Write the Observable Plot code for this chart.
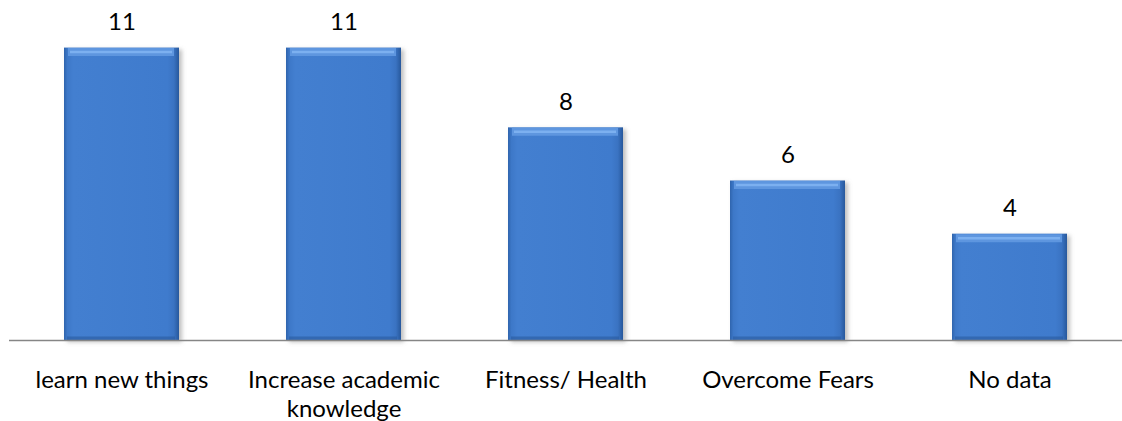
<!DOCTYPE html>
<html>
<head>
<meta charset="utf-8">
<script src="https://cdn.jsdelivr.net/npm/d3@7"></script>
<script src="https://cdn.jsdelivr.net/npm/@observablehq/plot@0.6"></script>
<style>
  html, body { margin: 0; padding: 0; background: #ffffff; }
  #chart svg { display: block; }
</style>
</head>
<body>
<div id="chart"></div>
<script>
// Reasons given for taking part
const categories = ["learn new things", "Increase academic knowledge", "Fitness/ Health", "Overcome Fears", "No data"];
const counts = [11, 11, 8, 6, 4];
const tickLabels = ["learn new things", "Increase academic\nknowledge", "Fitness/ Health", "Overcome Fears", "No data"];

const data = categories.map((c, i) => ({category: c, count: counts[i]}));
const labelOf = new Map(categories.map((c, i) => [c, tickLabels[i]]));

const font = "Lato, 'Open Sans', sans-serif";
const fontSize = 24;

// Gradient and blur definitions for the bevelled bar look
const defs = () => {
  const g = d3.create("svg:defs");
  const body = g.append("linearGradient").attr("id", "barBody").attr("x1", 0).attr("x2", 1).attr("y1", 0).attr("y2", 0);
  [[0, "#2f64ad"], [0.03, "#3d78c8"], [0.08, "#437fd0"], [0.9, "#3f7bcd"], [0.955, "#3a73c2"], [1, "#27589c"]]
    .forEach(([o, c]) => body.append("stop").attr("offset", o).attr("stop-color", c));
  const f = g.append("filter").attr("id", "barShadow").attr("x", "-10%").attr("y", "-10%").attr("width", "130%").attr("height", "130%");
  f.append("feGaussianBlur").attr("stdDeviation", 2);
  return g.node();
};

const chart = Plot.plot({
  width: 1122,
  height: 421,
  marginLeft: 9,
  marginRight: 0,
  marginTop: 21,
  marginBottom: 81,
  style: {fontFamily: font, fontSize: `${fontSize}px`, color: "#000"},
  x: {domain: categories, paddingInner: 0.484, paddingOuter: 0.242},
  y: {domain: [0, 12], axis: null},
  marks: [
    defs,
    // soft shadow to the lower right
    Plot.barY(data, {x: "category", y: "count", fill: "#8a8a8a", fillOpacity: 0.55, dx: 3, dy: 2, render: (i, s, v, d, c, next) => {
      const el = next(i, s, v, d, c);
      el.setAttribute("filter", "url(#barShadow)");
      return el;
    }}),
    Plot.barY(data, {x: "category", y: "count", fill: "url(#barBody)"}),
    // darker base strip
    Plot.tickY(data, {x: "category", y: 0, dy: -2, stroke: "#2a5a9e", strokeWidth: 4, strokeOpacity: 0.6, insetLeft: 3, insetRight: 4}),
    // lit top bevel
    Plot.tickY(data, {x: "category", y: "count", dy: 4, stroke: "#5e96df", strokeWidth: 8, insetLeft: 4, insetRight: 5}),
    Plot.tickY(data, {x: "category", y: "count", dy: 4, stroke: "#7cb0f0", strokeWidth: 2.5, insetLeft: 6, insetRight: 7}),
    Plot.ruleY([0], {stroke: "#868686", strokeWidth: 1.6}),
    Plot.text(data, {x: "category", y: "count", text: d => String(d.count), lineAnchor: "bottom", dy: -18, fill: "#000"}),
    Plot.axisX({tickSize: 0, tickPadding: 27, tickFormat: d => labelOf.get(d), lineHeight: 1.2, fill: "#000", label: null})
  ]
});

document.getElementById("chart").appendChild(chart);
</script>
</body>
</html>
